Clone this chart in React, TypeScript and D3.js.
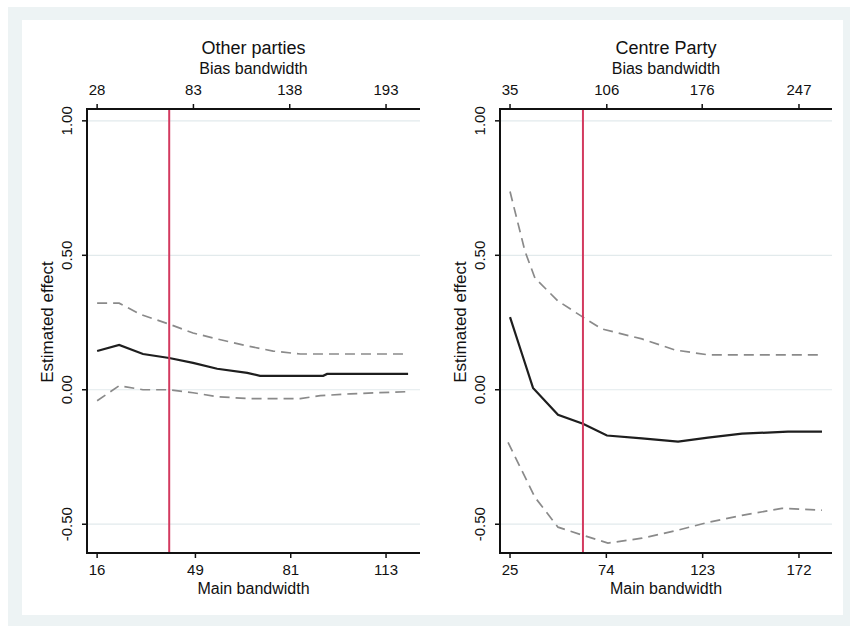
import React from "react";
import * as d3 from "d3";

// ---- Data ----
const yTicks = [1.0, 0.5, 0.0, -0.5];

// Left panel: Other parties
const leftMainTicks = [16, 49, 81, 113];
const leftBiasTicks = [28, 83, 138, 193];
const leftX = [16, 23.4, 31.4, 40.2, 48.2, 56.3, 66.4, 70.7, 91.9, 93.2, 120.4];
const leftEst = [0.144, 0.167, 0.133, 0.118, 0.1, 0.078, 0.063, 0.052, 0.052, 0.059, 0.059];
const leftUpperX = [16, 23.4, 30.4, 40.2, 48.2, 56.3, 66.4, 75.1, 84.2, 120.4];
const leftUpper = [0.322, 0.322, 0.281, 0.244, 0.211, 0.189, 0.163, 0.144, 0.133, 0.133];
const leftLowerX = [16, 23.4, 31.4, 40.2, 48.2, 56.3, 67.4, 84.2, 90.9, 101.0, 120.4];
const leftLower = [-0.041, 0.015, 0.0, 0.0, -0.011, -0.026, -0.033, -0.033, -0.022, -0.015, -0.007];
const leftCutoff = 40.2;

// Right panel: Centre Party
const rightMainTicks = [25, 74, 123, 172];
const rightBiasTicks = [35, 106, 176, 247];
const rightX = [25, 31.1, 36.7, 49.4, 62.1, 74.3, 92.1, 110.5, 125.7, 143.0, 166.4, 183.7];
const rightEst = [0.27, 0.133, 0.007, -0.093, -0.126, -0.17, -0.181, -0.193, -0.178, -0.163, -0.156, -0.156];
const rightUpperX = [25, 32.6, 37.7, 49.4, 62.1, 71.8, 92.1, 108.9, 125.7, 183.7];
const rightUpper = [0.737, 0.515, 0.415, 0.33, 0.27, 0.226, 0.189, 0.148, 0.13, 0.13];
const rightLowerX = [24, 37.7, 49.4, 62.1, 74.8, 92.1, 110.5, 125.7, 143.0, 163.3, 183.7];
const rightLower = [-0.196, -0.4, -0.511, -0.541, -0.57, -0.552, -0.522, -0.493, -0.467, -0.441, -0.448];
const rightCutoff = 62.1;

const FONT = "'Liberation Sans', Arial, sans-serif";

type PanelProps = {
  title: string;
  left: number;
  right: number;
  xDomain: [number, number];
  mainTicks: number[];
  biasTicks: number[];
  estX: number[];
  est: number[];
  upX: number[];
  up: number[];
  loX: number[];
  lo: number[];
  cutoff: number;
};

const TOP = 109;
const BOTTOM = 553;

function Panel(p: PanelProps) {
  const y = d3.scaleLinear().domain([-0.607, 1.044]).range([BOTTOM, TOP]);
  const x = d3.scaleLinear().domain(p.xDomain).range([p.left, p.right]);
  const xb = d3
    .scaleLinear()
    .domain([p.biasTicks[0], p.biasTicks[p.biasTicks.length - 1]])
    .range([x(p.mainTicks[0]), x(p.mainTicks[p.mainTicks.length - 1])]);
  const line = d3
    .line<[number, number]>()
    .x((d) => x(d[0]))
    .y((d) => y(d[1]));
  const zip = (a: number[], b: number[]) => a.map((v, i) => [v, b[i]] as [number, number]);
  const cx = (p.left + p.right) / 2;
  return (
    <g fontFamily={FONT} fill="#111">
      {yTicks.map((t) => (
        <line key={"g" + t} x1={p.left} x2={p.right} y1={y(t)} y2={y(t)} stroke="#e2eaec" strokeWidth={1.2} />
      ))}
      <path d={line(zip(p.upX, p.up)) || ""} fill="none" stroke="#8a8a8a" strokeWidth={1.7} strokeDasharray="10,6" />
      <path d={line(zip(p.loX, p.lo)) || ""} fill="none" stroke="#8a8a8a" strokeWidth={1.7} strokeDasharray="10,6" />
      <path d={line(zip(p.estX, p.est)) || ""} fill="none" stroke="#1e1e1e" strokeWidth={2.2} />
      <line x1={x(p.cutoff)} x2={x(p.cutoff)} y1={TOP} y2={BOTTOM} stroke="#d33a5f" strokeWidth={2} />
      {/* axes */}
      <line x1={p.left} x2={p.left} y1={TOP - 1} y2={BOTTOM + 1} stroke="#111" strokeWidth={2} />
      <line x1={p.left} x2={p.right} y1={TOP} y2={TOP} stroke="#111" strokeWidth={2} />
      <line x1={p.left} x2={p.right} y1={BOTTOM} y2={BOTTOM} stroke="#111" strokeWidth={2} />
      {yTicks.map((t) => (
        <g key={"yt" + t}>
          <line x1={p.left - 5} x2={p.left} y1={y(t)} y2={y(t)} stroke="#111" strokeWidth={1.5} />
          <text
            transform={`translate(${p.left - 15},${y(t)}) rotate(-90)`}
            textAnchor="middle"
            fontSize={15}
          >
            {t.toFixed(2)}
          </text>
        </g>
      ))}
      {p.mainTicks.map((t) => (
        <g key={"mt" + t}>
          <line x1={x(t)} x2={x(t)} y1={BOTTOM} y2={BOTTOM + 5} stroke="#111" strokeWidth={1.5} />
          <text x={x(t)} y={BOTTOM + 22} textAnchor="middle" fontSize={15}>
            {t}
          </text>
        </g>
      ))}
      {p.biasTicks.map((t) => (
        <g key={"bt" + t}>
          <line x1={xb(t)} x2={xb(t)} y1={TOP} y2={TOP - 5} stroke="#111" strokeWidth={1.5} />
          <text x={xb(t)} y={TOP - 14} textAnchor="middle" fontSize={15}>
            {t}
          </text>
        </g>
      ))}
      <text x={cx} y={BOTTOM + 41} textAnchor="middle" fontSize={16}>
        Main bandwidth
      </text>
      <text x={cx} y={TOP - 35} textAnchor="middle" fontSize={16}>
        Bias bandwidth
      </text>
      <text x={cx} y={TOP - 55} textAnchor="middle" fontSize={18}>
        {p.title}
      </text>
      <text transform={`translate(${p.left - 34},322) rotate(-90)`} textAnchor="middle" fontSize={17}>
        Estimated effect
      </text>
    </g>
  );
}

export default function App() {
  return (
    <svg width={850} height={626} style={{ position: "absolute", left: 0, top: 0 }}>
      <rect x={0} y={0} width={850} height={626} fill="#ffffff" />
      <rect x={8} y={7} width={842} height={619} fill="#edf3f4" />
      <rect x={22} y={20} width={821} height={595} fill="#ffffff" />
      <Panel
        title="Other parties"
        left={87}
        right={420}
        xDomain={[12.6, 124.4]}
        mainTicks={leftMainTicks}
        biasTicks={leftBiasTicks}
        estX={leftX}
        est={leftEst}
        upX={leftUpperX}
        up={leftUpper}
        loX={leftLowerX}
        lo={leftLower}
        cutoff={leftCutoff}
      />
      <Panel
        title="Centre Party"
        left={500}
        right={832}
        xDomain={[19.9, 188.8]}
        mainTicks={rightMainTicks}
        biasTicks={rightBiasTicks}
        estX={rightX}
        est={rightEst}
        upX={rightUpperX}
        up={rightUpper}
        loX={rightLowerX}
        lo={rightLower}
        cutoff={rightCutoff}
      />
    </svg>
  );
}
